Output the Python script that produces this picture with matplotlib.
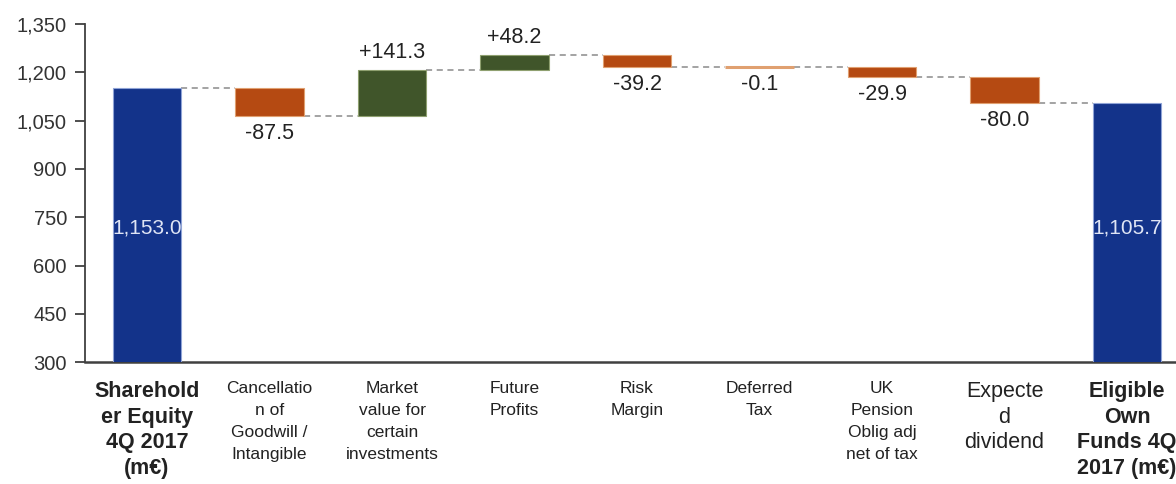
import matplotlib
matplotlib.use("Agg")
import matplotlib.pyplot as plt
import numpy as np

plt.rcParams['font.family'] = ['Liberation Sans', 'DejaVu Sans']

# data
categories = ["Sharehold\ner Equity\n4Q 2017\n(m€)",
              "Cancellatio\nn of\nGoodwill /\nIntangible",
              "Market\nvalue for\ncertain\ninvestments",
              "Future\nProfits",
              "Risk\nMargin",
              "Deferred\nTax",
              "UK\nPension\nOblig adj\nnet of tax",
              "Expecte\nd\ndividend",
              "Eligible\nOwn\nFunds 4Q\n2017 (m€)"]
start_value = 1153.0
deltas = [-87.5, 141.3, 48.2, -39.2, -0.1, -29.9, -80.0]
end_value = 1105.7
yticks = [300, 450, 600, 750, 900, 1050, 1200, 1350]

blue = "#13338a"
orange = "#b54a12"
green = "#40552a"

fig = plt.figure(figsize=(11.76, 4.84), dpi=100)
ax = fig.add_axes([0.0723, 0.252, 0.9277, 0.698])

x = np.arange(len(categories))
width = 0.56

# totals, with the value written inside and clipped to the bar
totals = ax.bar([x[0], x[-1]], [start_value, end_value], width=width, color=blue,
                edgecolor="#8fa3d6", linewidth=0.8, zorder=3)
for patch, xi, v in zip(totals.patches, [x[0], x[-1]], [start_value, end_value]):
    t = ax.text(xi, 716, f"{v:,.1f}", ha="center", va="center",
                color="#dfe5f5", fontsize=15, zorder=4)
    t.set_clip_path(patch)

# floating steps
level = start_value
levels = [level]
for i, d in enumerate(deltas, start=1):
    new = level + d
    col = green if d > 0 else orange
    edge = "#8fa070" if d > 0 else "#e0a070"
    lw = 0.8 if abs(d) > 1 else 2.2  # tiny step shows only as a pale strip
    ax.bar(x[i], d, bottom=level, width=width, color=col, edgecolor=edge,
           linewidth=lw, zorder=3)
    if d > 0:
        ax.annotate(f"+{d:.1f}", (x[i], new), xytext=(0, 5),
                    textcoords="offset points", ha="center", va="bottom",
                    fontsize=15.5, color="#222222")
    else:
        ax.annotate(f"{d:.1f}", (x[i], new), xytext=(0, -5),
                    textcoords="offset points", ha="center", va="top",
                    fontsize=15.5, color="#222222")
    level = new
    levels.append(level)

# connectors
for i in range(len(levels)):
    ax.plot([x[i] + width / 2, x[i + 1] - width / 2], [levels[i], levels[i]],
            color="#8a8a8a", linestyle=(0, (4, 3)), linewidth=1.1, zorder=2)

ax.set_ylim(300, 1350)
ax.set_xlim(-0.506, 8.4)
ax.set_yticks(yticks)
ax.set_yticklabels([f"{v:,}" for v in yticks], fontsize=14.5, color="#333333")
ax.tick_params(axis="y", length=7, width=1.3, color="#404040", pad=6)
ax.tick_params(axis="x", length=0, pad=14)

ax.set_xticks(x)
ax.set_xticklabels(categories)
big = {0, 7, 8}
for i, lab in enumerate(ax.get_xticklabels()):
    lab.set_color("#222222")
    lab.set_va("top")
    if i in big:
        lab.set_fontsize(15.5)
        lab.set_linespacing(1.28)
        if i != 7:
            lab.set_fontweight("bold")
    else:
        lab.set_fontsize(12.5)
        lab.set_linespacing(1.58)

for s in ["top", "right"]:
    ax.spines[s].set_visible(False)
ax.spines["left"].set_color("#404040")
ax.spines["left"].set_linewidth(1.3)
ax.spines["bottom"].set_color("#404040")
ax.spines["bottom"].set_linewidth(1.8)

fig.savefig("out.png", dpi=100)
